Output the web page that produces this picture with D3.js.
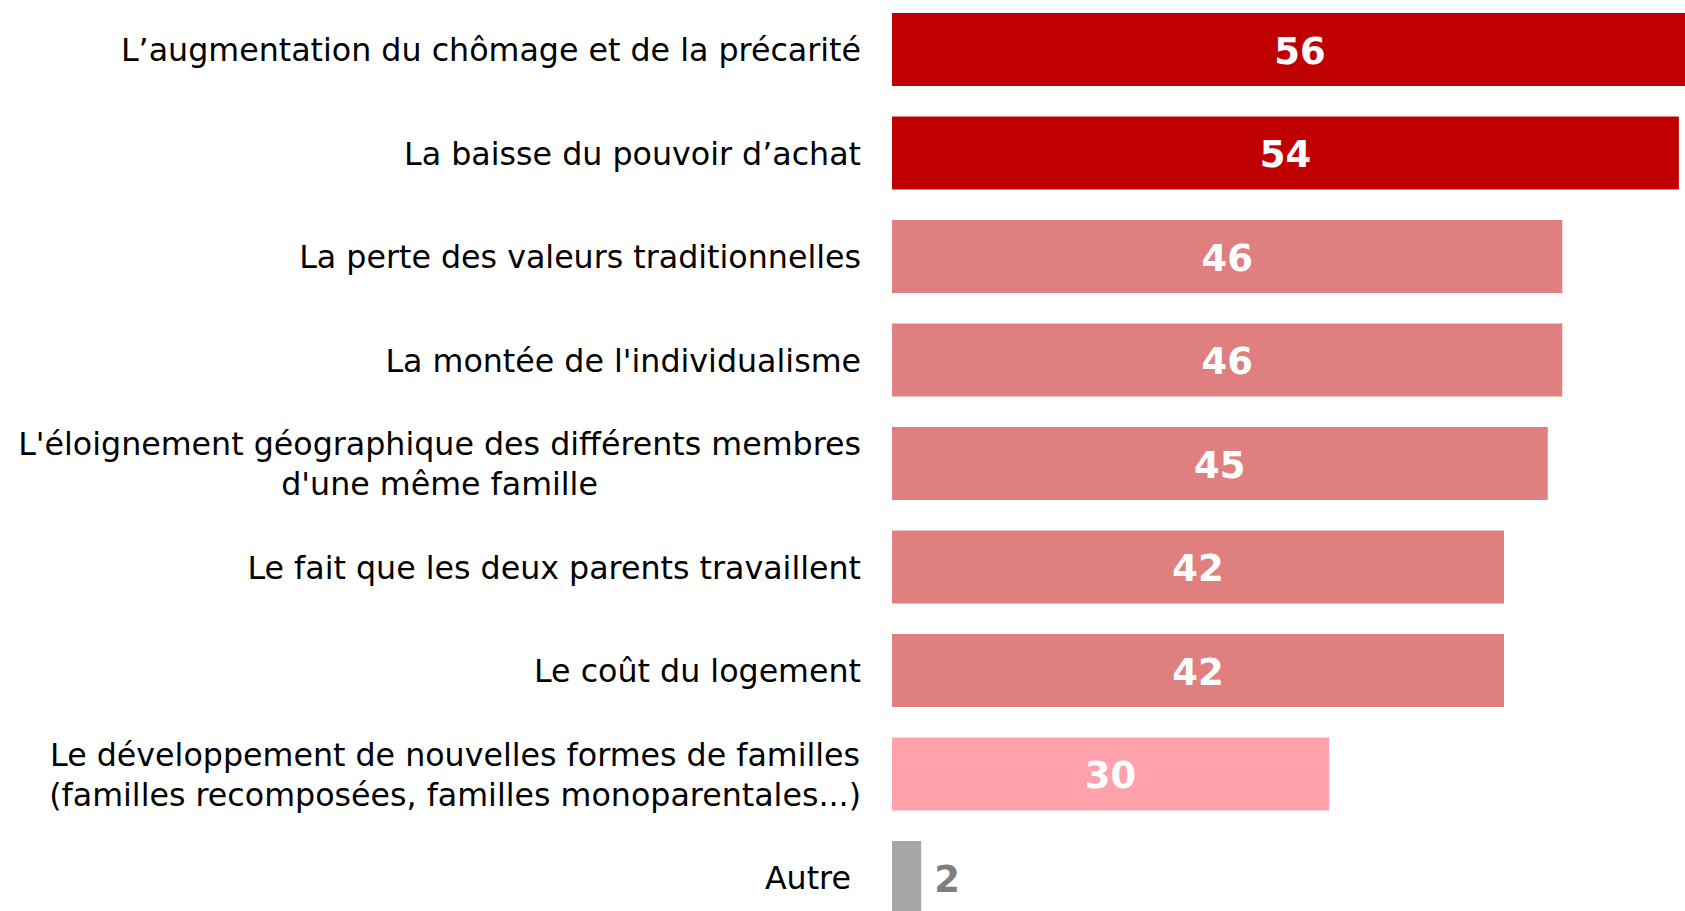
<!DOCTYPE html>
<html>
<head>
<meta charset="utf-8">
<script src="https://cdn.jsdelivr.net/npm/d3@7"></script>
<style>
  html, body { margin: 0; padding: 0; background: #fff; }
  svg { display: block; font-family: "DejaVu Sans", Verdana, sans-serif; }
  text { white-space: pre; }
</style>
</head>
<body>
<div id="chart"></div>
<script>
  const categories = [
    ['L’augmentation du chômage et de la précarité'],
    ['La baisse du pouvoir d’achat'],
    ['La perte des valeurs traditionnelles'],
    ['La montée de l\'individualisme'],
    ['L\'éloignement géographique des différents membres', 'd\'une même famille'],
    ['Le fait que les deux parents travaillent'],
    ['Le coût du logement'],
    ['Le développement de nouvelles formes de familles', '(familles recomposées, familles monoparentales...)'],
    ['Autre ']
  ];
  const values = [56, 54, 46, 46, 45, 42, 42, 30, 2];
  const barColors = ['#C00000', '#C00000', '#DF7F7F', '#DF7F7F', '#DF7F7F', '#DF7F7F', '#DF7F7F', '#FFA1AB', '#A6A6A6'];

  const width = 1685;
  const height = 911;
  const barLeft = 892;
  const labelRight = 861;

  const svg = d3.select('#chart')
    .append('svg')
    .attr('width', width)
    .attr('height', height);

  const keys = categories.map((_, i) => i);
  const x = d3.scaleLinear().domain([0, 56]).range([barLeft, 1708]);
  const y = d3.scaleBand()
    .domain(keys)
    .range([13, 914])
    .paddingInner(0.295)
    .paddingOuter(0);

  svg.selectAll('.bar')
    .data(values)
    .enter()
    .append('rect')
    .attr('class', 'bar')
    .attr('x', x(0))
    .attr('y', (_, i) => y(i))
    .attr('width', (d) => x(d) - x(0))
    .attr('height', y.bandwidth())
    .attr('fill', (_, i) => barColors[i]);

  // value labels: inside the bar, or beside it when the bar is too small
  svg.selectAll('.val')
    .data(values)
    .enter()
    .append('text')
    .attr('class', 'val')
    .attr('x', (d) => (d < 10 ? x(d) + 13 : (x(0) + x(d)) / 2))
    .attr('y', (_, i) => y(i) + y.bandwidth() / 2)
    .attr('dy', '0.39em')
    .attr('text-anchor', (d) => (d < 10 ? 'start' : 'middle'))
    .attr('font-size', 37)
    .attr('font-weight', 'bold')
    .attr('fill', (d) => (d < 10 ? '#7F7F7F' : '#fff'))
    .text((d) => d);

  const lineHeight = 40;
  categories.forEach((lines, i) => {
    const g = svg.append('g');
    const cy = y(i) + y.bandwidth() / 2;
    const texts = lines.map((line, j) => g.append('text')
      .attr('font-size', 31.7)
      .attr('fill', '#000')
      .attr('y', cy + (j - (lines.length - 1) / 2) * lineHeight)
      .attr('dy', '0.37em')
      .text(line));
    const maxW = d3.max(texts, (t) => t.node().getComputedTextLength());
    const center = labelRight - maxW / 2;
    texts.forEach((t) => t.attr('x', center).attr('text-anchor', 'middle'));
  });
</script>
</body>
</html>
